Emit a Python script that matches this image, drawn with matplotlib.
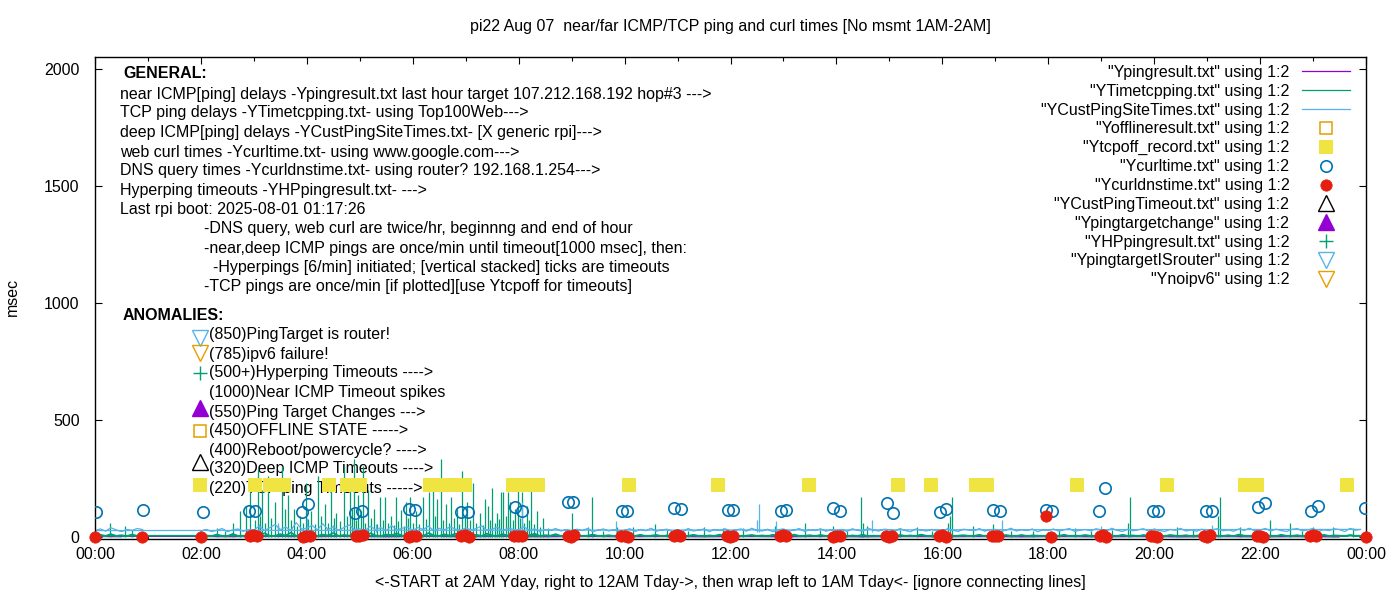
import numpy as np
import matplotlib
matplotlib.use("Agg")
import matplotlib.pyplot as plt

plt.rcParams['font.family'] = ['Liberation Sans', 'DejaVu Sans']
FS = 11.5
W, H = 1400, 600

# ---------------- text ----------------
title = "pi22 Aug 07  near/far ICMP/TCP ping and curl times [No msmt 1AM-2AM]"
xlabel = "<-START at 2AM Yday, right to 12AM Tday->, then wrap left to 1AM Tday<- [ignore connecting lines]"
ylabel = "msec"
xtick_hours = [0, 2, 4, 6, 8, 10, 12, 14, 16, 18, 20, 22, 24]
xtick_labels = ["00:00", "02:00", "04:00", "06:00", "08:00", "10:00", "12:00",
                "14:00", "16:00", "18:00", "20:00", "22:00", "00:00"]
ytick_vals = [0, 500, 1000, 1500, 2000]

general_lines = [
    "near ICMP[ping] delays -Ypingresult.txt last hour target 107.212.168.192 hop#3 --->",
    "TCP ping delays -YTimetcpping.txt- using Top100Web--->",
    "deep ICMP[ping] delays -YCustPingSiteTimes.txt- [X generic rpi]--->",
    "web curl times -Ycurltime.txt- using www.google.com--->",
    "DNS query times -Ycurldnstime.txt- using router? 192.168.1.254--->",
    "Hyperping timeouts -YHPpingresult.txt- --->",
    "Last rpi boot: 2025-08-01 01:17:26",
]
notes_lines = [
    "-DNS query, web curl are twice/hr, beginnng and end of hour",
    "-near,deep ICMP pings are once/min until timeout[1000 msec], then:",
    "  -Hyperpings [6/min] initiated; [vertical stacked] ticks are timeouts",
    "-TCP pings are once/min [if plotted][use Ytcpoff for timeouts]",
]
anomaly_lines = [
    "(850)PingTarget is router!",
    "(785)ipv6 failure!",
    "(500+)Hyperping Timeouts ---->",
    "(1000)Near ICMP Timeout spikes",
    "(550)Ping Target Changes --->",
    "(450)OFFLINE STATE ----->",
    "(400)Reboot/powercycle? ---->",
    "(320)Deep ICMP Timeouts ---->",
    "(220)TCP ping Timeouts ----->",
]
legend_labels = [
    '"Ypingresult.txt" using 1:2',
    '"YTimetcpping.txt" using 1:2',
    '"YCustPingSiteTimes.txt" using 1:2',
    '"Yofflineresult.txt" using 1:2',
    '"Ytcpoff_record.txt" using 1:2',
    '"Ycurltime.txt" using 1:2',
    '"Ycurldnstime.txt" using 1:2',
    '"YCustPingTimeout.txt" using 1:2',
    '"Ypingtargetchange" using 1:2',
    '"YHPpingresult.txt" using 1:2',
    '"YpingtargetISrouter" using 1:2',
    '"Ynoipv6" using 1:2',
]

# ---------------- data ----------------
# sampling grid (hours): 2AM..midnight, then wrap to 0..1AM
grid_t = np.concatenate([np.round(np.arange(2.0, 24.0, 0.1), 2),
                         np.round(np.arange(0.0, 1.0, 0.1), 2)])

custping_v = [
    24, 31, 22, 27, 35, 21, 29, 33, 23, 30,
    28, 45, 26, 38, 52, 30, 41, 27, 60, 33,
    36, 48, 29, 55, 31, 42, 27, 39, 50, 30,
    34, 26, 44, 30, 38, 25, 47, 29, 36, 41,
    27, 39, 31, 45, 24, 36, 29, 42, 33, 26,
    38, 29, 35, 46, 27, 33, 40, 25, 37, 31,
    29, 43, 26, 34, 22, 31, 27, 35, 24, 30,
    23, 32, 26, 35, 21, 28, 33, 24, 30, 22,
    27, 34, 22, 31, 25, 36, 23, 29, 32, 21,
    30, 22, 35, 24, 28, 33, 21, 31, 26, 34,
    22, 29, 33, 23, 36, 27, 24, 32, 21, 30,
    33, 24, 28, 35, 22, 30, 26, 34, 23, 29,
    25, 31, 22, 34, 27, 23, 36, 28, 24, 32,
    30, 23, 35, 26, 21, 33, 28, 24, 31, 27,
    24, 34, 27, 22, 32, 29, 25, 35, 23, 30,
    31, 22, 28, 36, 24, 30, 26, 33, 21, 29,
    26, 33, 23, 30, 35, 22, 28, 31, 25, 34,
    29, 24, 36, 27, 22, 32, 25, 30, 34, 23,
    33, 26, 22, 31, 28, 35, 24, 29, 23, 32,
    22, 30, 34, 25, 29, 23, 33, 27, 36, 24,
    28, 35, 24, 32, 26, 22, 31, 34, 25, 29,
    34, 23, 29, 26, 33, 30, 22, 35, 27, 31,
    26, 33, 24, 38, 29, 22, 31, 27, 35, 30,
]

tcpping_v = [
    3, 5, 2, 9, 3, 2, 12, 3, 4, 2,
    8, 3, 15, 4, 3, 11, 4, 18, 3, 6,
    4, 13, 3, 9, 5, 16, 3, 7, 4, 12,
    11, 3, 15, 5, 3, 9, 6, 14, 4, 7,
    4, 12, 3, 16, 5, 3, 10, 4, 13, 5,
    15, 4, 8, 3, 13, 5, 3, 11, 4, 16,
    3, 9, 5, 13, 3, 6, 4, 11, 2, 6,
    3, 7, 2, 4, 9, 3, 3, 6, 2, 4,
    2, 5, 3, 8, 2, 4, 7, 2, 5, 3,
    6, 2, 3, 8, 3, 2, 5, 3, 9, 2,
    3, 6, 2, 4, 7, 3, 5, 2, 8, 3,
    2, 4, 9, 3, 3, 6, 2, 7, 3, 4,
    7, 3, 2, 5, 3, 8, 2, 4, 3, 6,
    3, 2, 7, 3, 5, 2, 9, 3, 2, 6,
    3, 8, 2, 4, 6, 3, 3, 8, 2, 4,
    5, 2, 7, 3, 3, 7, 2, 5, 4, 3,
    2, 6, 3, 8, 2, 4, 3, 7, 3, 2,
    6, 3, 4, 2, 8, 3, 5, 2, 7, 3,
    3, 5, 2, 7, 4, 3, 6, 2, 4, 8,
    2, 7, 3, 3, 6, 2, 9, 4, 3, 5,
    7, 3, 4, 2, 8, 3, 3, 6, 2, 5,
    3, 2, 8, 3, 5, 4, 2, 7, 3, 4,
    4, 8, 3, 11, 3, 6, 2, 9, 3, 4,
]

# TCP ping spikes (hour, msec)
tcp_spike_t = [0.28, 0.57, 0.70, 2.30, 2.45, 2.60, 2.74, 2.85, 2.93,
               3.02, 3.08, 3.12, 3.15, 3.21, 3.27, 3.33, 3.40, 3.46, 3.53, 3.58, 3.64, 3.70, 3.76, 3.82, 3.87, 3.93, 3.98,
               4.03, 4.08, 4.15, 4.21, 4.27, 4.34, 4.40, 4.46, 4.51, 4.55, 4.62, 4.70, 4.75, 4.81, 4.85, 4.89, 4.93, 4.97,
               5.02, 5.06, 5.10, 5.15, 5.21, 5.27, 5.32, 5.38, 5.43, 5.48, 5.53, 5.59, 5.64, 5.68, 5.73, 5.78, 5.83, 5.87, 5.91, 5.95,
               6.01, 6.06, 6.12, 6.19, 6.25, 6.31, 6.38, 6.42, 6.46, 6.53, 6.58, 6.63, 6.68, 6.72, 6.78, 6.84, 6.88, 6.93, 6.98,
               7.02, 7.08, 7.14, 7.20, 7.27, 7.32, 7.36, 7.42, 7.46, 7.50, 7.55, 7.59, 7.63, 7.67, 7.71, 7.76, 7.80, 7.84, 7.89, 7.93, 7.99,
               8.03, 8.06, 8.10, 8.15, 8.19, 8.23, 8.29, 8.35, 8.40, 8.46, 8.55,
               9.00, 9.05, 9.31, 9.38, 9.60, 9.86, 10.16, 10.57, 10.80, 11.20, 11.50, 11.86, 12.24, 12.84, 13.10, 13.40,
               13.69, 13.94, 14.20, 14.46, 14.50, 14.57, 15.20, 15.52, 15.80, 16.10, 16.15, 16.18, 16.58, 16.96, 17.30,
               17.71, 18.20, 18.50, 18.80, 19.20, 19.50, 19.54, 19.90, 20.43, 20.74, 21.20, 21.24, 21.62, 21.90, 22.19,
               22.57, 22.80, 23.00, 23.37, 23.75]
tcp_spike_v = [60, 45, 30, 35, 25, 60, 110, 130, 230,
               70, 290, 90, 200, 60, 260, 80, 150, 50, 300, 120, 180, 70, 120, 45, 90, 60, 230,
               75, 110, 55, 260, 90, 140, 60, 210, 80, 100, 65, 300, 90, 250, 120, 330, 70, 180,
               110, 300, 60, 200, 80, 120, 55, 170, 70, 170, 60, 90, 50, 170, 65, 115, 45, 150, 80, 170,
               60, 110, 55, 170, 75, 190, 200, 90, 160, 330, 70, 140, 60, 170, 80, 120, 55, 280, 90,
               150, 70, 230, 60, 100, 50, 160, 130, 70, 210, 60, 100, 75, 190, 190, 90, 190, 150, 70, 120, 240,
               80, 190, 60, 130, 70, 200, 55, 110, 40, 80, 35,
               100, 30, 40, 170, 25, 40, 40, 55, 30, 25, 40, 35, 35, 45, 25, 60,
               30, 45, 25, 170, 60, 45, 30, 40, 25, 60, 90, 170, 45, 55, 25,
               25, 30, 35, 25, 30, 60, 170, 25, 40, 30, 90, 170, 40, 30, 70,
               60, 25, 40, 40, 35]

# deep ICMP spikes (hour, msec)
cust_spike_t = [3.10, 3.45, 4.00, 4.50, 5.30, 8.06, 9.84, 12.50, 12.54, 12.86, 14.67, 17.13, 19.00, 21.10]
cust_spike_v = [55, 60, 78, 50, 55, 150, 68, 70, 140, 68, 70, 70, 45, 50]

# near ICMP ping (half-hour samples)
ping_t = np.concatenate([np.arange(2.0, 24.0, 0.5), [0.0, 0.5]])
ping_v = [1, 0, 1, 1, 0, 1, 1, 0, 1, 1, 0, 1, 1, 0, 1, 1, 0, 1, 1, 0, 1, 1,
          0, 1, 1, 0, 1, 1, 0, 1, 1, 0, 1, 1, 0, 1, 1, 0, 1, 1, 0, 1, 1, 0, 1, 0]

# web curl times
curl_t = [0.02, 0.91, 2.03, 2.91, 3.02, 3.91, 4.03, 4.91, 5.04, 5.92, 6.04, 6.91, 7.05, 7.93, 8.06,
          8.94, 9.03, 9.95, 10.05, 10.94, 11.06, 11.95, 12.05, 12.95, 13.05, 13.94, 14.07, 14.95, 15.07,
          15.96, 16.07, 16.96, 17.08, 17.96, 18.08, 18.96, 19.08, 19.97, 20.08, 20.98, 21.09, 21.97, 22.09,
          22.97, 23.10, 23.98]
curl_v = [106, 115, 105, 110, 110, 105, 140, 100, 110, 118, 115, 105, 105, 128, 110,
          148, 148, 108, 108, 122, 119, 112, 112, 111, 115, 122, 108, 143, 101,
          105, 119, 112, 108, 115, 108, 108, 207, 108, 108, 108, 108, 126, 143,
          108, 132, 122]

# DNS query times
dns_t = [0.00, 0.88, 2.00, 2.92, 2.98, 3.05, 3.92, 3.99, 4.06, 4.92, 4.99, 5.06, 5.92, 5.99, 6.06,
         6.92, 6.99, 7.07, 7.92, 7.99, 8.06, 8.93, 8.99, 9.05, 9.94, 10.00, 10.06, 10.93, 10.99, 11.05,
         11.93, 11.99, 12.05, 12.93, 12.99, 13.05, 13.94, 14.00, 14.06, 14.93, 14.99, 15.05,
         15.94, 16.00, 16.06, 16.94, 17.00, 17.06, 17.96, 18.05, 18.97, 19.03, 19.09,
         19.94, 20.00, 20.06, 20.94, 21.00, 21.06, 21.94, 22.00, 22.06, 22.94, 23.00, 23.06, 24.00]
dns_v = [0, 0, 0, 2, 5, 1, 0, 4, 2, 3, 1, 5, 0, 4, 2,
         2, 5, 0, 1, 4, 2, 3, 0, 5, 1, 4, 0, 2, 5, 1,
         3, 0, 4, 1, 5, 2, 0, 3, 1, 4, 0, 2,
         1, 5, 0, 3, 1, 4, 90, 0, 2, 6, 0,
         1, 4, 0, 3, 0, 5, 1, 4, 0, 2, 5, 1, 0]

# TCP ping timeouts
tcpoff_t = [1.98, 3.02, 3.30, 3.57, 4.42, 4.75, 5.00, 6.33, 6.42, 6.68, 6.84, 6.99, 7.90, 8.14, 8.37,
            10.09, 11.77, 13.49, 15.17, 15.79, 16.63, 16.85, 18.55, 20.25, 21.71, 21.95, 23.65]
tcpoff_v = [220] * 27

offline_t, offline_v = [1.98], [450]
custtimeout_t, custtimeout_v = [1.98], [320]
targetchange_t, targetchange_v = [1.98], [550]
hpping_t, hpping_v = [1.98], [700]
isrouter_t, isrouter_v = [1.98], [850]
noipv6_t, noipv6_v = [1.98], [785]

# ---------------- colours ----------------
C_PURPLE = "#9400d3"
C_GREEN = "#009e73"
C_LBLUE = "#56b4e9"
C_ORANGE = "#e69f00"
C_YELLOW = "#f0e442"
C_BLUE = "#0072b2"
C_RED = "#e51e10"

# ---------------- figure ----------------
fig = plt.figure(figsize=(W / 100, H / 100), dpi=100)
ax = fig.add_axes([95 / W, 1 - 539 / H, (1366 - 95) / W, (539 - 57) / H])

def P(x, y):
    return x / W, 1 - y / H

def label(x, y, s, **kw):
    # annotation text drawn beneath the data marks (as in the original)
    ax.text(*P(x, y), s, transform=fig.transFigure, ha='left', va='center',
            fontsize=FS, zorder=1.5, **kw)

h_ping, = ax.plot(ping_t, ping_v, color=C_PURPLE, lw=0.9, zorder=2)
h_tcp, = ax.plot(grid_t, tcpping_v, color=C_GREEN, lw=1.2, zorder=2.1)
ax.vlines(tcp_spike_t, 0, tcp_spike_v, color=C_GREEN, lw=0.9, zorder=2.1)
h_cust, = ax.plot(grid_t, custping_v, color=C_LBLUE, lw=0.9, zorder=2.2)
ax.vlines(cust_spike_t, 20, cust_spike_v, color=C_LBLUE, lw=0.9, zorder=2.2)

h_off, = ax.plot(offline_t, offline_v, ls='none', marker='s', ms=9, mfc='none', mec=C_ORANGE, mew=1.1, zorder=3)
h_tcpoff, = ax.plot(tcpoff_t, tcpoff_v, ls='none', marker='s', ms=9.5, mfc=C_YELLOW, mec=C_YELLOW, mew=0, zorder=3)
h_curl, = ax.plot(curl_t, curl_v, ls='none', marker='o', ms=8.2, mfc='none', mec=C_BLUE, mew=1.2, zorder=3)
h_dns, = ax.plot(dns_t, dns_v, ls='none', marker='o', ms=8.2, mfc=C_RED, mec=C_RED, mew=0.5, zorder=3, clip_on=False)
h_ct, = ax.plot(custtimeout_t, custtimeout_v, ls='none', marker='^', ms=11, mfc='none', mec='black', mew=1.0, zorder=3)
h_tc, = ax.plot(targetchange_t, targetchange_v, ls='none', marker='^', ms=11, mfc=C_PURPLE, mec=C_PURPLE, mew=1.0, zorder=3)
h_hp, = ax.plot(hpping_t, hpping_v, ls='none', marker='+', ms=10, mec=C_GREEN, mew=1.0, zorder=3)
h_rt, = ax.plot(isrouter_t, isrouter_v, ls='none', marker='v', ms=11, mfc='none', mec=C_LBLUE, mew=1.0, zorder=3)
h_v6, = ax.plot(noipv6_t, noipv6_v, ls='none', marker='v', ms=11, mfc='none', mec=C_ORANGE, mew=1.0, zorder=3)

ax.set_xlim(0, 24)
ax.set_ylim(-10, 2050)
ax.set_xticks(xtick_hours)
ax.set_xticklabels(xtick_labels)
ax.set_xticks(range(1, 24, 2), minor=True)
ax.set_yticks(ytick_vals)
ax.tick_params(which='both', direction='in', top=True, right=True, labelsize=FS, width=0.8)
ax.tick_params(axis='x', which='major', length=5, pad=6)
ax.tick_params(axis='x', which='minor', length=3)
ax.tick_params(axis='y', which='major', length=5, pad=11)
for s in ax.spines.values():
    s.set_linewidth(1.0)

handles = [h_ping, h_tcp, h_cust, h_off, h_tcpoff, h_curl, h_dns, h_ct, h_tc, h_hp, h_rt, h_v6]
leg = ax.legend(handles, legend_labels, loc='upper right',
                bbox_to_anchor=P(1350, 65), bbox_transform=fig.transFigure,
                frameon=False, markerfirst=False, fontsize=FS, handlelength=3.0,
                handletextpad=0.8, labelspacing=0.24, borderpad=0, borderaxespad=0,
                numpoints=1)
for lh in leg.get_lines():
    lh.set_linewidth(0.9)

# texts
fig.text(*P(730, 26), title, ha='center', va='center', fontsize=FS)
fig.text(*P(730, 583), xlabel, ha='center', va='center', fontsize=FS)
fig.text(*P(12, 297), ylabel, ha='center', va='center', rotation=90, fontsize=FS)

label(123, 74, "GENERAL:", fontweight='bold')
gy = [94, 113, 132, 152, 171, 190, 209]
for y, s in zip(gy, general_lines):
    label(120, y, s)
ny = [229, 248, 267, 286]
for y, s in zip(ny, notes_lines):
    label(204, y, s)
label(123, 315, "ANOMALIES:", fontweight='bold')
ay = [335, 354, 373, 392, 412, 431, 450, 469, 488]
for y, s in zip(ay, anomaly_lines):
    label(209, y, s)

fig.savefig("out.png", dpi=100)
